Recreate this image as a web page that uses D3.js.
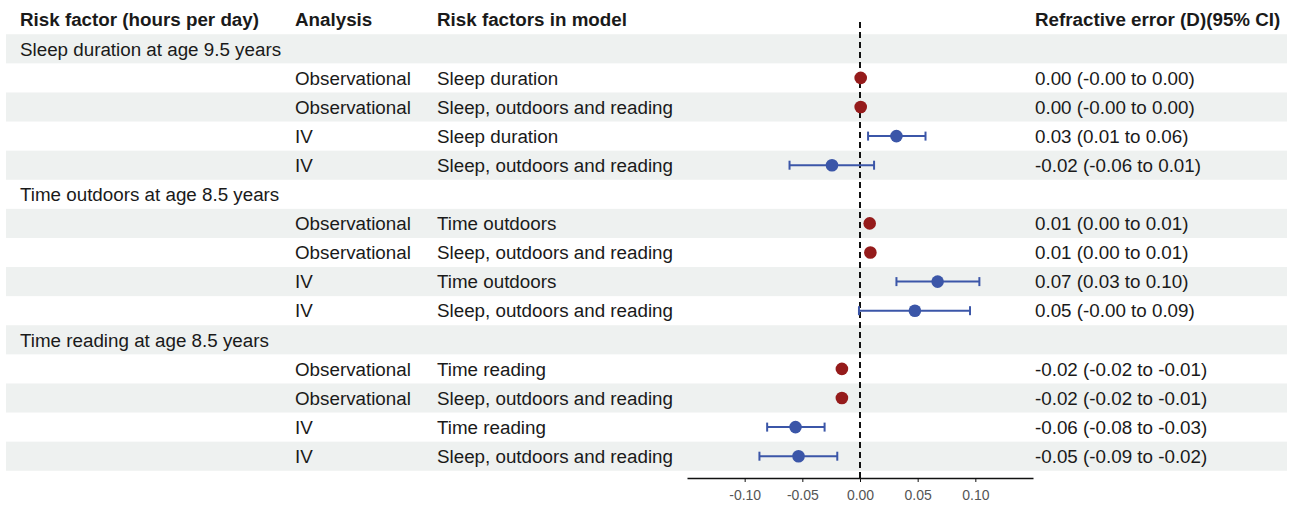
<!DOCTYPE html>
<html>
<head>
<meta charset="utf-8">
<script src="https://cdn.jsdelivr.net/npm/d3@7"></script>
<style>
  html, body { margin: 0; padding: 0; background: #fff; }
  svg { display: block; font-family: "Liberation Sans", Arial, sans-serif; }
</style>
</head>
<body>
<div id="chart"></div>
<script>
// --- data ---
const headers = ["Risk factor (hours per day)", "Analysis", "Risk factors in model", "Refractive error (D)(95% CI)"];
const groups = ["Sleep duration at age 9.5 years", "Time outdoors at age 8.5 years", "Time reading at age 8.5 years"];
const groupOf = [0, 0, 0, 0, 1, 1, 1, 1, 2, 2, 2, 2];
const analysis = ["Observational", "Observational", "IV", "IV",
                  "Observational", "Observational", "IV", "IV",
                  "Observational", "Observational", "IV", "IV"];
const model = ["Sleep duration", "Sleep, outdoors and reading", "Sleep duration", "Sleep, outdoors and reading",
               "Time outdoors", "Sleep, outdoors and reading", "Time outdoors", "Sleep, outdoors and reading",
               "Time reading", "Sleep, outdoors and reading", "Time reading", "Sleep, outdoors and reading"];
const estimate = [0.0006, 0.0006, 0.0316, -0.0243, 0.0084, 0.0090, 0.0673, 0.0476, -0.0157, -0.0157, -0.0559, -0.0533];
const lower    = [-0.0010, -0.0010, 0.0070, -0.0611, 0.0060, 0.0065, 0.0316, -0.0009, -0.0180, -0.0180, -0.0805, -0.0872];
const upper    = [0.0020, 0.0020, 0.0568, 0.0122, 0.0110, 0.0115, 0.1035, 0.0954, -0.0130, -0.0130, -0.0307, -0.0197];
const ciText = ["0.00 (-0.00 to 0.00)", "0.00 (-0.00 to 0.00)", "0.03 (0.01 to 0.06)", "-0.02 (-0.06 to 0.01)",
                "0.01 (0.00 to 0.01)", "0.01 (0.00 to 0.01)", "0.07 (0.03 to 0.10)", "0.05 (-0.00 to 0.09)",
                "-0.02 (-0.02 to -0.01)", "-0.02 (-0.02 to -0.01)", "-0.06 (-0.08 to -0.03)", "-0.05 (-0.09 to -0.02)"];
const xTicks = [-0.10, -0.05, 0.00, 0.05, 0.10];

// build display rows: a group label row followed by its four estimates
const rows = [];
groups.forEach((g, gi) => {
  rows.push({ type: "group", label: g });
  groupOf.forEach((k, i) => { if (k === gi) rows.push({ type: "est", i }); });
});

const W = 1291, H = 506;
const colX = [20, 295, 437, 1035];
const RED = "#951b1b", BLUE = "#3b56a8", STRIPE = "#eef1f0", TXT = "#1a1a1a";

const svg = d3.select("#chart").append("svg").attr("width", W).attr("height", H);

const y = d3.scaleLinear().domain([0, rows.length - 1]).range([48.8, 456.2]);
const rowH = y(1) - y(0);
const x = d3.scaleLinear().domain([-0.15, 0.15]).range([687, 1033]);

// zebra stripes
svg.append("g").selectAll("rect")
  .data(rows.map((r, k) => k).filter(k => k % 2 === 0))
  .join("rect")
  .attr("x", 6).attr("width", 1281)
  .attr("y", k => y(k) - rowH / 2).attr("height", rowH)
  .attr("fill", STRIPE);

// column headers
svg.append("g").selectAll("text")
  .data(headers)
  .join("text")
  .attr("x", (d, i) => colX[i]).attr("y", y(-1))
  .attr("dy", "0.36em")
  .attr("font-size", 18.8).attr("font-weight", "bold").attr("fill", TXT)
  .text(d => d);

// table text
const tg = svg.append("g").attr("font-size", 18.8).attr("fill", TXT);
rows.forEach((r, k) => {
  if (r.type === "group") {
    tg.append("text").attr("x", colX[0]).attr("y", y(k)).attr("dy", "0.36em").text(r.label);
  } else {
    tg.append("text").attr("x", colX[1]).attr("y", y(k)).attr("dy", "0.36em").text(analysis[r.i]);
    tg.append("text").attr("x", colX[2]).attr("y", y(k)).attr("dy", "0.36em").text(model[r.i]);
    tg.append("text").attr("x", colX[3]).attr("y", y(k)).attr("dy", "0.36em").text(ciText[r.i]);
  }
});

// x axis (plain hyphen for negatives, as in the figure)
const axisY = 478;
const ax = svg.append("g")
  .attr("transform", `translate(0,${axisY})`)
  .call(d3.axisBottom(x).tickValues(xTicks).tickFormat(d => d.toFixed(2)).tickSize(4).tickSizeOuter(0));
ax.select(".domain").attr("stroke", "#111").attr("stroke-width", 1.3);
ax.selectAll(".tick line").attr("stroke", "#111");
ax.selectAll(".tick text").attr("font-size", 14).attr("fill", "#555").attr("font-family", "'Liberation Sans', Arial, sans-serif").attr("dy", "1.1em");

// reference line at zero
svg.append("line")
  .attr("x1", x(0)).attr("x2", x(0)).attr("y1", 22).attr("y2", axisY)
  .attr("stroke", "#111").attr("stroke-width", 2).attr("stroke-dasharray", "6,4");

// estimates
const est = rows.map((r, k) => ({ ...r, k })).filter(r => r.type === "est");
const mg = svg.append("g");
est.forEach(r => {
  const i = r.i, cy = y(r.k);
  const iv = analysis[i] === "IV";
  const col = iv ? BLUE : RED;
  mg.append("line").attr("x1", x(lower[i])).attr("x2", x(upper[i])).attr("y1", cy).attr("y2", cy)
    .attr("stroke", col).attr("stroke-width", 2);
  if (iv) {
    [lower[i], upper[i]].forEach(v => {
      mg.append("line").attr("x1", x(v)).attr("x2", x(v)).attr("y1", cy - 4.5).attr("y2", cy + 4.5)
        .attr("stroke", col).attr("stroke-width", 2);
    });
  }
  mg.append("circle").attr("cx", x(estimate[i])).attr("cy", cy).attr("r", iv ? 6.3 : 6.3).attr("fill", col);
});
</script>
</body>
</html>
